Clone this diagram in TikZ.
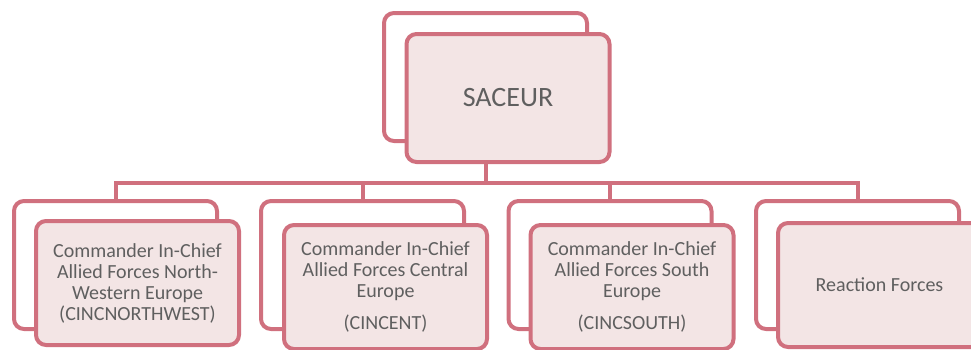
\documentclass[tikz,border=0pt]{standalone}
\usepackage{fontspec}
\setmainfont{Carlito}
\definecolor{edgec}{RGB}{208,112,126}
\definecolor{frontfill}{RGB}{243,229,229}
\definecolor{textc}{RGB}{95,95,95}
\tikzset{
  backbox/.style={draw=edgec, line width=4pt, rounded corners=10pt, fill=white,
    minimum width=203pt, minimum height=128pt, inner sep=0pt},
  frontbox/.style={draw=edgec, line width=4pt, rounded corners=10pt, fill=frontfill,
    minimum width=203pt, minimum height=124pt, inner sep=0pt, align=center,
    text=textc, font=\fontsize{20}{21}\selectfont},
  conn/.style={draw=edgec, line width=4pt},
}
\begin{document}
\begin{tikzpicture}[x=1pt,y=-1pt]
\useasboundingbox (0,0) rectangle (971,349);
\clip (0,0) rectangle (971,349);
% top
\node[backbox, minimum height=128pt] (topback) at (485.5,77) {};
\coordinate (bus) at (485.5,183);
\draw[conn] (topback.south) -- (bus);
% lower back boxes
\node[backbox] (b1back) at (115.5,265) {};
\node[backbox] (b2back) at (362.5,265) {};
\node[backbox] (b3back) at (610,265) {};
\node[backbox] (b4back) at (857.5,265) {};
\draw[conn] (b1back.north) |- (bus) -| (b4back.north);
\draw[conn] (b2back.north) -- (b2back.north |- bus);
\draw[conn] (b3back.north) -- (b3back.north |- bus);
% front boxes
\node[frontbox, minimum height=128pt, font=\fontsize{28}{30}\selectfont] (saceur) at (508,98) {SACEUR};
\node[frontbox] (nw) at (137.5,283) {Commander In-Chief\\Allied Forces North-\\Western Europe\\(CINCNORTHWEST)};
\node[frontbox] (cent) at (385.5,287) {Commander In-Chief\\Allied Forces Central\\Europe\\[11pt](CINCENT)};
\node[frontbox] (south) at (632,287) {Commander In-Chief\\Allied Forces South\\Europe\\[11pt](CINCSOUTH)};
\node[frontbox] (react) at (879.5,285) {Reaction Forces};
\end{tikzpicture}
\end{document}
